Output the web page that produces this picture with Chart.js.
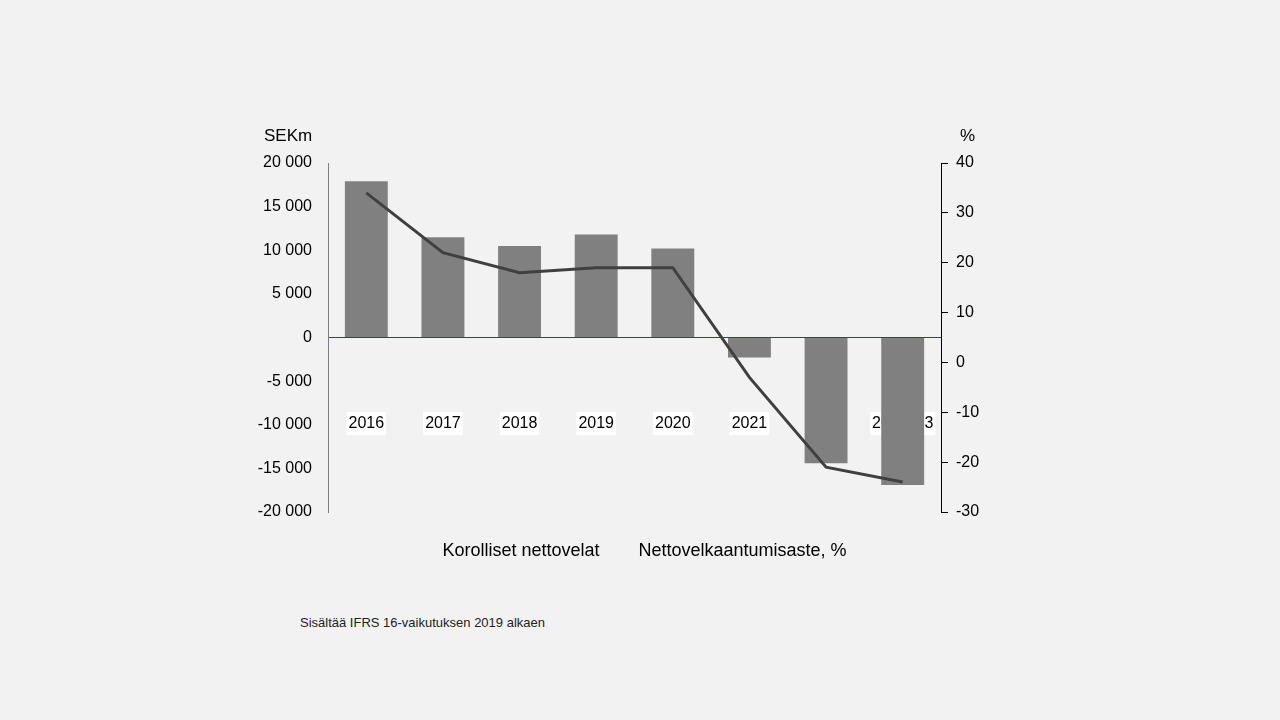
<!DOCTYPE html>
<html><head><meta charset="utf-8">
<script src="https://cdn.jsdelivr.net/npm/chart.js@4"></script>
<style>
html,body{margin:0;padding:0;background:#f2f2f2;width:1280px;height:720px;overflow:hidden;font-family:"Liberation Sans",Arial,sans-serif}
#wrap{position:absolute;left:0;top:0;width:1280px;height:570px}
.t{position:absolute;font-size:17px;color:#000}
</style></head><body>
<div id="wrap"><canvas id="c"></canvas></div>
<div class="t" style="left:264px;top:126px">SEKm</div>
<div class="t" style="left:960px;top:126px">%</div>
<div style="position:absolute;left:300px;top:615px;font-size:13px;color:#222">Sisältää IFRS 16-vaikutuksen 2019 alkaen</div>
<script>
const categories=["2016","2017","2018","2019","2020","2021","2022","2023 Q3"];
const netDebt=[17900,11500,10500,11800,10200,-2300,-14400,-16900];
const gearing=[34,22,18,19,19,-3,-21,-24];
const leftTicks=[-20000,-15000,-10000,-5000,0,5000,10000,15000,20000];
const fmt=v=>{const s=Math.abs(v).toString().replace(/\B(?=(\d{3})+(?!\d))/g," ");return (v<0?"-":"")+s;};
new Chart(document.getElementById('c'),{
 data:{labels:categories,datasets:[
  {type:'line',label:'Nettovelkaantumisaste, %',data:gearing,yAxisID:'y2',borderColor:'#404040',borderWidth:3,pointRadius:0,tension:0,order:0},
  {type:'bar',label:'Korolliset nettovelat',data:netDebt,yAxisID:'y',backgroundColor:'#808080',barPercentage:0.56,categoryPercentage:1,order:1}
 ]},
 options:{responsive:true,maintainAspectRatio:false,animation:false,
  layout:{padding:{top:163,left:0,right:0,bottom:0}},
  plugins:{tooltip:{enabled:false},
   legend:{position:'bottom',reverse:true,labels:{boxWidth:0,boxHeight:0,padding:30,color:'#000',font:{family:'Liberation Sans',size:18}}}},
  scales:{
   x:{position:{y:-7500},grid:{display:false},border:{display:false},
      ticks:{color:'#000',font:{family:'Liberation Sans',size:16},maxRotation:0,autoSkip:false,showLabelBackdrop:true,backdropColor:'#ffffff',backdropPadding:2}},
   y:{position:'left',min:-20000,max:20000,
      afterBuildTicks:s=>{s.ticks=leftTicks.map(v=>({value:v}));},
      afterFit:s=>{s.width=328;},
      border:{display:true,color:'#808080'},
      grid:{color:c=>c.tick&&c.tick.value===0?'#2f3f7f':'rgba(0,0,0,0)',drawTicks:false,lineWidth:1},
      ticks:{color:'#000',padding:16,font:{family:'Liberation Sans',size:16},callback:v=>fmt(v)}},
   y2:{position:'right',min:-30,max:40,
      afterFit:s=>{s.width=339;},
      border:{display:true,color:'#000'},
      grid:{drawOnChartArea:false,tickLength:7,color:'#000'},
      ticks:{stepSize:10,color:'#000',padding:8,font:{family:'Liberation Sans',size:16}}}
  }}
});
</script></body></html>
